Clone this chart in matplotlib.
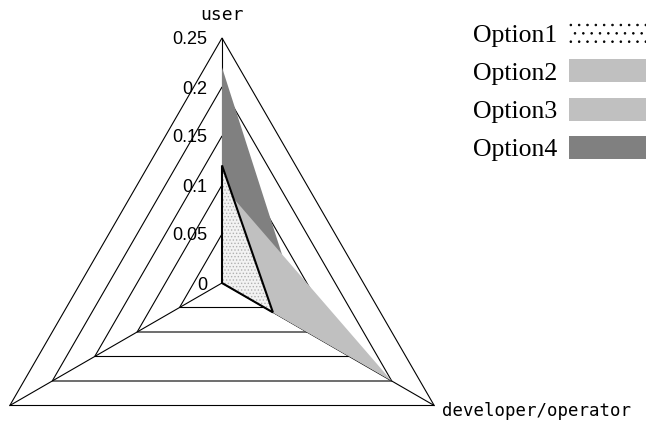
import numpy as np
import matplotlib
matplotlib.use('Agg')
import matplotlib.pyplot as plt
from matplotlib.patches import Patch

# data
axes_labels = ['user', 'developer/operator', '']
options = ['Option1', 'Option2', 'Option3', 'Option4']
user = [0.12, 0.10, 0.10, 0.22]
developer = [0.06, 0.15, 0.20, 0.10]
other = [0.0, 0.0, 0.0, 0.0]
ticks = [0, 0.05, 0.1, 0.15, 0.2, 0.25]
tick_labels = ['0', '0.05', '0.1', '0.15', '0.2', '0.25']

colors = ['#f2f2f2', '#c0c0c0', '#c0c0c0', '#808080']

# angles of the three spokes (user on top, clockwise)
angles = np.deg2rad([90, -30, 210])

def to_xy(vals):
    vals = np.asarray(vals)
    return vals * np.cos(angles), vals * np.sin(angles)

plt.rcParams['hatch.linewidth'] = 0.6

fig = plt.figure(figsize=(6.46, 4.25), dpi=100)
ax = fig.add_axes([0, 0, 1, 1])
ax.set_xlim(-222 / 980, 424 / 980)
ax.set_ylim(-142 / 980, 283 / 980)
ax.axis('off')

# grid triangles and spokes
for t in ticks[1:]:
    gx, gy = to_xy([t, t, t])
    ax.fill(gx, gy, facecolor='none', edgecolor='black', lw=0.8, zorder=1)
rmax = ticks[-1]
for a in angles:
    ax.plot([0, rmax * np.cos(a)], [0, rmax * np.sin(a)], color='black', lw=0.8, zorder=1)

# series, largest first so Option1 ends on top
for i in [3, 2, 1, 0]:
    x, y = to_xy([user[i], developer[i], other[i]])
    if i == 0:
        ax.fill(x, y, facecolor=colors[i], edgecolor='#b0b0b0', hatch='.....', lw=0, zorder=2)
        ax.fill(x, y, facecolor='none', edgecolor='black', lw=1.5, zorder=3)
    else:
        ax.fill(x, y, facecolor=colors[i], lw=0, zorder=2)

# tick labels along the user axis
for t, lab in zip(ticks, tick_labels):
    ax.text(-15 / 980, t - 2 / 980, lab, ha='right', va='center', fontsize=13,
            family='Liberation Sans', zorder=4)

# axis labels
ax.text(0, 0.2735, axes_labels[0], ha='center', va='center', fontsize=13,
        family='DejaVu Sans Mono')
ax.text(0.2245, -0.1306, axes_labels[1], ha='left', va='center', fontsize=12.5,
        family='DejaVu Sans Mono')

# legend
handles = [Patch(facecolor='white', edgecolor='black', hatch='..', lw=0),
           Patch(facecolor=colors[1], lw=0),
           Patch(facecolor=colors[2], lw=0),
           Patch(facecolor=colors[3], lw=0)]
fig.legend(handles, options, loc='upper right', bbox_to_anchor=(1.0, 0.95),
           frameon=False, markerfirst=False, borderpad=0, borderaxespad=0,
           handlelength=3.0, handleheight=1.0, handletextpad=0.45,
           labelspacing=0.5, prop={'family': 'Liberation Serif', 'size': 18.5})

fig.savefig('out.png', dpi=100)
